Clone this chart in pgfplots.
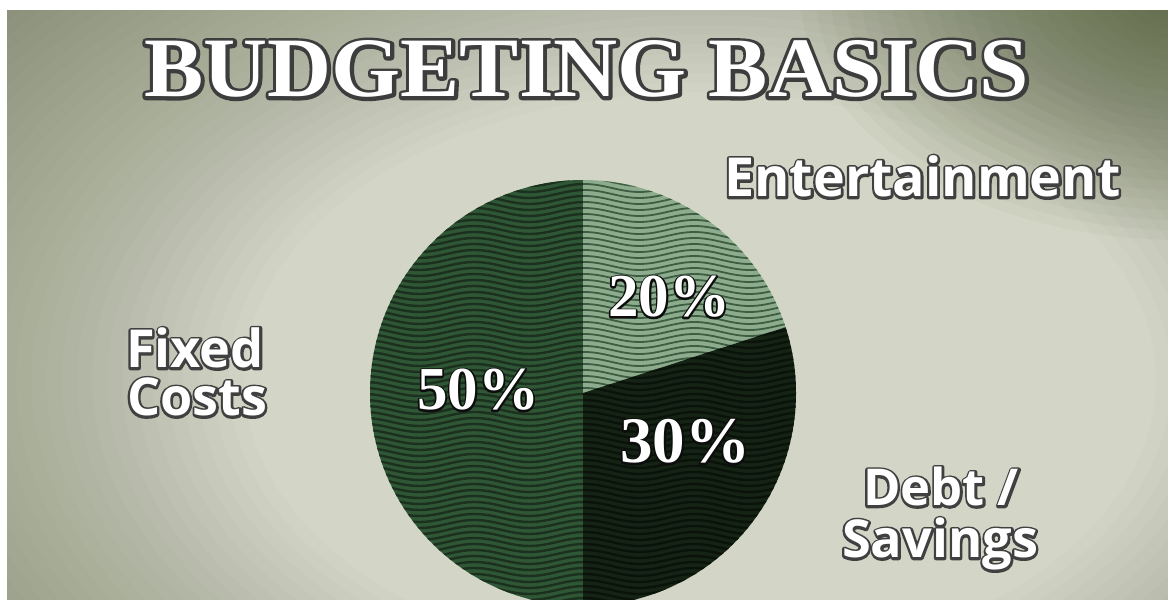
\documentclass[border=0pt]{standalone}
\usepackage{pgfplots}
\pgfplotsset{compat=1.18}
\usepackage{pgfplotstable}
\usepackage{fontspec}
\setmainfont{Open Sans}
\newfontfamily\numfont{Liberation Serif}
\newfontfamily\titlefont{Liberation Serif}
\usetikzlibrary{decorations.pathmorphing}

\definecolor{bgA}{HTML}{D3D6C6}
\definecolor{bgDark}{HTML}{4A5530}
\definecolor{cFixed}{HTML}{2F5735}
\definecolor{lnFixed}{HTML}{1B301E}
\definecolor{cEnt}{HTML}{8CAC8D}
\definecolor{lnEnt}{HTML}{3D5D42}
\definecolor{cDebt}{HTML}{152315}
\definecolor{lnDebt}{HTML}{0A130A}

% white text with an outline drawn behind it: #1 stroke width, #2 grey level, #3 text
\newcommand\outlined[3]{\rlap{\color[gray]{#2}\special{pdf:literal direct 2 Tr #1 w #2 G 1 j}#3\special{pdf:literal direct 0 Tr}}{\color{white}#3}}

\pgfplotstableread{
label share
Fixed 50
Entertainment 20
Debt 30
}\budget
\pgfplotstablegetelem{0}{share}\of\budget \let\sFixed\pgfplotsretval
\pgfplotstablegetelem{1}{share}\of\budget \let\sEnt\pgfplotsretval
\pgfplotstablegetelem{2}{share}\of\budget \let\sDebt\pgfplotsretval
\pgfmathsetmacro\aFixedE{90+3.6*\sFixed}
\pgfmathsetmacro\aEntE{90-3.6*\sEnt}
\pgfmathsetmacro\aDebtE{\aEntE-3.6*\sDebt}

\newcommand\piewedge[2]{(583,207) -- ++(#1:106.5pt) arc[start angle=#1, end angle=#2, radius=106.5pt] -- cycle}

\begin{document}
\begin{tikzpicture}
\useasboundingbox (0,0) rectangle (584pt,300pt);
\clip (0,0) rectangle (584pt,300pt);
\fill[white] (0,0) rectangle (584pt,300pt);
\begin{scope}
\clip (3.5pt,0) rectangle (584pt,294.5pt);
\fill[bgA] (0,0) rectangle (584pt,300pt);
\foreach \r in {0.60,0.62,...,1.40}{\fill[bgDark, opacity=0.02, even odd rule] (-5pt,-5pt) rectangle (590pt,305pt) (350pt,110pt) ellipse ({\r*380pt} and {\r*240pt});}
\foreach \r in {1.0,0.96,...,0.04}{\fill[bgDark, opacity=0.035] (590pt,305pt) ellipse ({\r*190pt} and {\r*125pt});}
\end{scope}
\begin{axis}[at={(0,0)}, anchor=south west, x=0.5pt, y=0.5pt,
  xmin=0, xmax=1168, ymin=0, ymax=600, hide axis, clip=false, scale only axis]
% Fixed costs
\begin{scope}
\clip \piewedge{90}{\aFixedE};
\fill[cFixed] (340,-20) rectangle (830,430);
\pgfplotsinvokeforeach{-14,-8,...,430}{\draw[lnFixed, line width=1.2pt, decorate, decoration={snake, amplitude=2pt, segment length=55pt}] (330,#1) -- (840,#1);}
\end{scope}
% Entertainment
\begin{scope}
\clip \piewedge{90}{\aEntE};
\fill[cEnt] (340,-20) rectangle (830,430);
\pgfplotsinvokeforeach{-14,-8,...,430}{\draw[lnEnt, line width=0.9pt, decorate, decoration={snake, amplitude=2pt, segment length=55pt}] (330,#1) -- (840,#1);}
\end{scope}
% Debt / savings
\begin{scope}
\clip \piewedge{\aEntE}{\aDebtE};
\fill[cDebt] (340,-20) rectangle (830,430);
\pgfplotsinvokeforeach{-14,-8,...,430}{\draw[lnDebt, line width=1.2pt, decorate, decoration={snake, amplitude=2pt, segment length=55pt}] (330,#1) -- (840,#1);}
\end{scope}

% title
\node[anchor=base, inner sep=0pt] at (587,503) {\resizebox{442.5pt}{28pt}{\titlefont\bfseries\fontsize{40}{40}\selectfont\outlined{3.2}{0.24}{BUDGETING BASICS}}};

% category labels
\node[anchor=base west, inner sep=0pt] at (724,403) {\resizebox{198pt}{!}{\bfseries\fontsize{24}{24}\selectfont\outlined{2.2}{0.25}{Entertainment}}};
\node[anchor=base, inner sep=0pt] at (195,232) {\resizebox{69pt}{!}{\bfseries\fontsize{24}{24}\selectfont\outlined{2.2}{0.25}{Fixed}}};
\node[anchor=base, inner sep=0pt] at (197,184) {\resizebox{70pt}{!}{\bfseries\fontsize{24}{24}\selectfont\outlined{2.2}{0.25}{Costs}}};
\node[anchor=base, inner sep=0pt] at (941,94) {\resizebox{78pt}{!}{\bfseries\fontsize{24}{24}\selectfont\outlined{2.2}{0.25}{Debt /}}};
\node[anchor=base, inner sep=0pt] at (940,42) {\resizebox{98pt}{!}{\bfseries\fontsize{24}{24}\selectfont\outlined{2.2}{0.25}{Savings}}};

% percentages
\node[anchor=base, inner sep=0pt] at (669,283) {\resizebox{61pt}{!}{\numfont\bfseries\fontsize{29}{29}\selectfont\outlined{1.6}{0.05}{\sEnt\%}}};
\node[anchor=base, inner sep=0pt] at (478,190) {\resizebox{61pt}{!}{\numfont\bfseries\fontsize{29}{29}\selectfont\outlined{1.6}{0.05}{\sFixed\%}}};
\node[anchor=base, inner sep=0pt] at (685,137) {\resizebox{65pt}{!}{\numfont\bfseries\fontsize{29}{29}\selectfont\outlined{1.6}{0.05}{\sDebt\%}}};
\end{axis}
\end{tikzpicture}
\end{document}
